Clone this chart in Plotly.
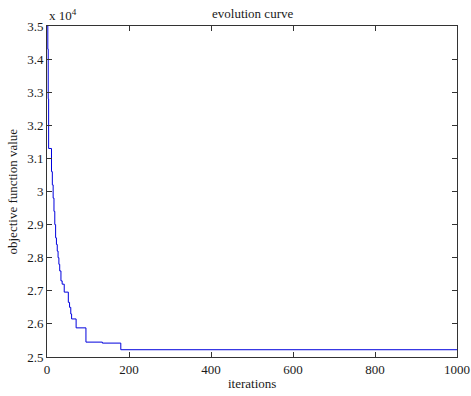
import plotly.graph_objects as go

# change points of the best-so-far objective value (step curve)
iterations = [1, 2, 3, 4, 11, 13, 15, 17, 19, 21, 23, 25, 27, 29, 31, 34, 37, 42, 52, 55, 58, 60, 71, 95, 135, 180, 1000]
objective = [35000, 34300, 32800, 31300, 30600, 30200, 29800, 29400, 29000, 28600, 28400, 28200, 28000, 27800,
             27600, 27300, 27200, 26960, 26650, 26500, 26300, 26150, 25880, 25450, 25420, 25220, 25220]

x_ticks = [0, 200, 400, 600, 800, 1000]
y_tickvals = [25000, 26000, 27000, 28000, 29000, 30000, 31000, 32000, 33000, 34000, 35000]
y_ticktext = ["2.5", "2.6", "2.7", "2.8", "2.9", "3", "3.1", "3.2", "3.3", "3.4", "3.5"]

FONT = "Liberation Serif"
TXT = "#1a1a1a"

fig = go.Figure()
fig.add_trace(go.Scatter(x=iterations, y=objective, mode="lines", line_shape="hv",
                         line=dict(color="#0000dd", width=1), showlegend=False, hoverinfo="skip"))

axis_common = dict(showline=True, linecolor="#333333", linewidth=1, mirror="ticks",
                   ticks="inside", ticklen=5, tickcolor="#333333", showgrid=False, zeroline=False,
                   automargin=False,
                   tickfont=dict(family=FONT, size=13, color=TXT))

fig.update_xaxes(range=[0, 1000], tickvals=x_ticks, ticktext=[str(v) for v in x_ticks], **axis_common)
fig.update_yaxes(range=[25000, 35000], tickvals=y_tickvals, ticktext=y_ticktext, **axis_common)

fig.add_annotation(text="evolution curve", xref="paper", yref="paper", x=0.5, y=1, yanchor="middle",
                   yshift=13, showarrow=False, font=dict(family=FONT, size=13, color=TXT))
fig.add_annotation(text="x 10<sup>4</sup>", xref="paper", yref="paper", x=0, y=1, xanchor="left",
                   yanchor="bottom", yshift=1, showarrow=False, font=dict(family=FONT, size=13, color=TXT))
fig.add_annotation(text="iterations", xref="paper", yref="paper", x=0.5, y=0, yanchor="middle",
                   yshift=-26, showarrow=False, font=dict(family=FONT, size=13, color=TXT))
fig.add_annotation(text="objective function value", xref="paper", yref="paper", x=0, y=0.5,
                   xanchor="center", yanchor="middle", xshift=-35, textangle=-90, showarrow=False,
                   font=dict(family=FONT, size=13, color=TXT))

fig.update_layout(width=471, height=396, margin=dict(l=47, r=14, t=26, b=39, autoexpand=False),
                  paper_bgcolor="#ffffff", plot_bgcolor="#ffffff", hovermode=False)

fig.write_html("out.html", config={"displayModeBar": False},
               post_script="document.body.style.margin='0';document.body.style.overflow='hidden';")
